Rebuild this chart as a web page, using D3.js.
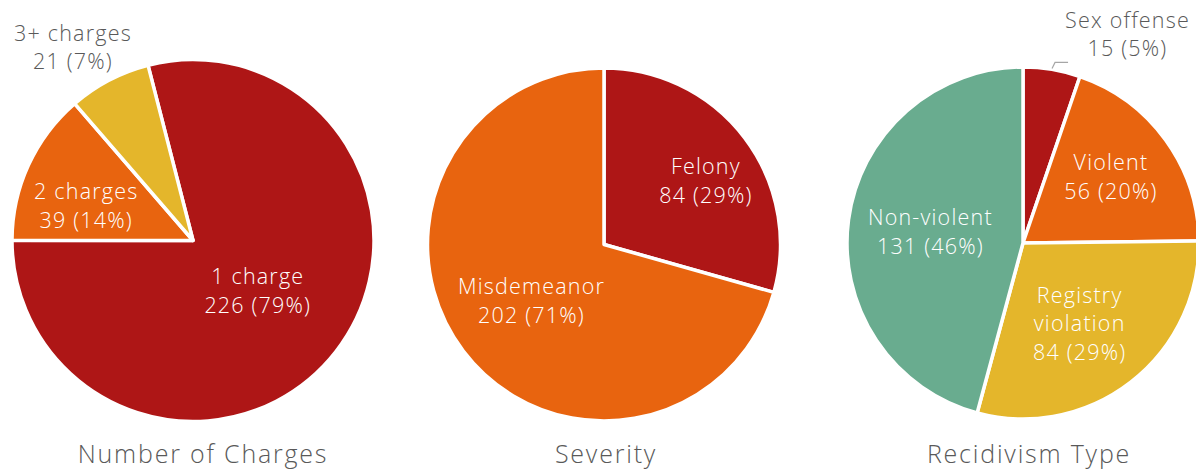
<!DOCTYPE html>
<html>
<head>
<meta charset="utf-8">
<script src="https://cdn.jsdelivr.net/npm/d3@7"></script>
<style>
  body { margin: 0; background: #fff; }
  svg { display: block; font-family: "Century Gothic", "Open Sans", sans-serif; font-weight: 300; }
</style>
</head>
<body>
<div id="wrapper"></div>
<script>
/*global d3 */

//****************************1. Data

const chargeLabels = ["1 charge", "2 charges", "3+ charges"]
const chargeValues = [226, 39, 21]

const severityLabels = ["Felony", "Misdemeanor"]
const severityValues = [84, 202]

const recidLabels = ["Sex offense", "Violent", "Registry\nviolation", "Non-violent"]
const recidValues = [15, 56, 84, 131]

const chartTitles = ["Number of Charges", "Severity", "Recidivism Type"]

const chargeColors = ["#AE1616", "#E8640F", "#E4B62B"]
const severityColors = ["#AE1616", "#E8640F"]
const recidColors = ["#AE1616", "#E8640F", "#E4B62B", "#69AC8F"]

//****************************2. Dimensions

const dimensions = { width: 1196, height: 471 }

// label spots: [angle in degrees clockwise from top, fraction of radius]
const charts = [
    { title: chartTitles[0], labels: chargeLabels, values: chargeValues, colors: chargeColors,
      cx: 193, cy: 240.5, r: 181, titleX: 203, start: -14.4,
      spots: [[127.8, 0.453], [287.9, 0.62], [328.1, 1.255]], outside: [false, false, true], leader: [false, false, false] },
    { title: chartTitles[1], labels: severityLabels, values: severityValues, colors: severityColors,
      cx: 604, cy: 244.5, r: 176.5, titleX: 606, start: 0,
      spots: [[58.1, 0.68], [232.2, 0.52]], outside: [false, false], leader: [false, false] },
    { title: chartTitles[2], labels: recidLabels, values: recidValues, colors: recidColors,
      cx: 1023, cy: 243, r: 176, titleX: 1029, start: 0,
      spots: [[26.6, 1.326], [53.1, 0.625], [144.9, 0.56], [276.7, 0.53]],
      outside: [true, false, false, false], leader: [true, false, false, false] }
]

//****************************3. Canvas

const svg = d3.select("#wrapper")
    .append("svg")
    .attr("width", dimensions.width)
    .attr("height", dimensions.height)

const pctFormat = d3.format(".0%")
const lineHeight = 28.5
const rad = deg => deg * Math.PI / 180

//****************************4. Draw pies

charts.forEach(chart => {
    const total = d3.sum(chart.values)
    const rows = chart.labels.map((label, i) => ({ label, value: chart.values[i], i }))

    const pie = d3.pie()
        .value(d => d.value)
        .sort(null)
        .startAngle(rad(chart.start))
        .endAngle(rad(chart.start + 360))

    const arc = d3.arc()
        .innerRadius(0)
        .outerRadius(chart.r)

    const g = svg.append("g")
        .attr("transform", `translate(${chart.cx}, ${chart.cy})`)

    const arcs = pie(rows)

    g.selectAll("path")
        .data(arcs)
        .join("path")
        .attr("d", arc)
        .attr("fill", d => chart.colors[d.data.i])
        .attr("stroke", "#fff")
        .attr("stroke-width", 3.5)
        .attr("stroke-linejoin", "round")

    // labels
    const labelG = g.selectAll(".slice-label")
        .data(arcs)
        .join("text")
        .attr("class", "slice-label")
        .attr("text-anchor", "middle")
        .attr("font-size", 21.5)
        .attr("letter-spacing", 1.2)
        .attr("fill", d => chart.outside[d.data.i] ? "#595959" : "#fff")
        .each(function(d) {
            const [ang, frac] = chart.spots[d.data.i]
            const x = Math.sin(rad(ang)) * chart.r * frac
            const y = -Math.cos(rad(ang)) * chart.r * frac
            const lines = d.data.label.split("\n")
                .concat(`${d.data.value} (${pctFormat(d.data.value / total)})`)
            const top = y - (lines.length - 1) * lineHeight / 2
            d3.select(this).selectAll("tspan")
                .data(lines)
                .join("tspan")
                .attr("x", x)
                .attr("y", (t, k) => top + k * lineHeight)
                .attr("dy", "0.35em")
                .text(t => t)
        })

    // leader lines
    labelG.filter(d => chart.leader[d.data.i])
        .each(function(d) {
            const box = this.getBBox()
            const mid = (d.startAngle + d.endAngle) / 2
            const sx = Math.sin(mid) * (chart.r + 1)
            const sy = -Math.cos(mid) * (chart.r + 1)
            g.append("polyline")
                .attr("points", [[sx, sy], [sx + 3, sy - 6], [box.x + 3, sy - 6]].map(p => p.join(",")).join(" "))
                .attr("fill", "none")
                .attr("stroke", "#A6A6A6")
                .attr("stroke-width", 1.2)
        })

    // title
    svg.append("text")
        .attr("x", chart.titleX)
        .attr("y", 463)
        .attr("text-anchor", "middle")
        .attr("font-size", 25)
        .attr("letter-spacing", 1.8)
        .attr("fill", "#595959")
        .text(chart.title)
})
</script>
</body>
</html>
